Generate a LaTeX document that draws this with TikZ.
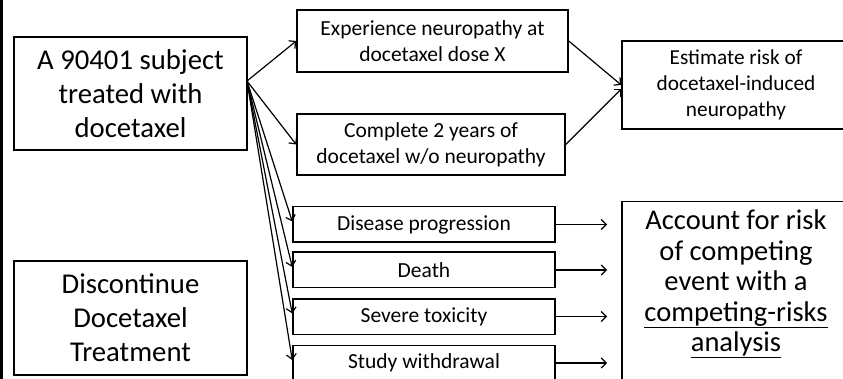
\documentclass[tikz,border=0pt]{standalone}
\usepackage{fontspec}
\setmainfont{Carlito}
\usetikzlibrary{arrows.meta}

\begin{document}
\begin{tikzpicture}[x=1pt, y=-1pt, >={Straight Barb[length=5pt,width=10pt]},
    caixa/.style={draw, line width=1.5pt, inner sep=0pt, align=center},
    evento/.style={caixa, minimum width=262pt, minimum height=35.5pt, font=\fontsize{21.5}{26}\selectfont},
    seta/.style={->, line width=1.2pt}]

    % Moldura da figura (recortada nas bordas, como no original)
    \useasboundingbox (0,0) rectangle (843,379);
    \clip (0,0) rectangle (843,379);
    \draw[line width=3pt] (1.5,0) -- (1.5,379);

    % --- CAIXAS DA ESQUERDA ---
    \node[caixa, minimum width=233pt, minimum height=113pt, font=\fontsize{28.7}{34}\selectfont] (sujeito) at (130.5,93.5) {A 90401 subject\\treated with\\docetaxel};
    \node[caixa, minimum width=233pt, minimum height=114pt, font=\fontsize{28.7}{34}\selectfont] (descont) at (130.5,318) {Discontinue\\Docetaxel\\Treatment};

    % --- DESFECHO PRINCIPAL (neuropatia) ---
    \node[caixa, minimum width=271pt, minimum height=62pt, font=\fontsize{21.5}{26}\selectfont] (neuro) at (432.5,41) {Experience neuropathy at\\docetaxel dose X};
    \node[caixa, minimum width=268pt, minimum height=61pt, font=\fontsize{21.5}{26}\selectfont] (completo) at (431,144.5) {Complete 2 years of\\docetaxel w/o neuropathy};
    \node[caixa, minimum width=228pt, minimum height=88pt, font=\fontsize{21.3}{26}\selectfont] (estimar) at (736,85) {Estimate risk of\\docetaxel-induced\\neuropathy};

    % --- EVENTOS COMPETITIVOS ---
    \node[evento] (progressao) at (424,224.5) {Disease progression};
    \node[evento] (morte) at (424,270) {Death};
    \node[evento] (toxicidade) at (424,316.5) {Severe toxicity};
    \node[evento] (retirada) at (424,363) {Study withdrawal};

    \node[caixa, minimum width=228pt, minimum height=190pt, anchor=north] (competir) at (736,201) {};
    \node[align=center, font=\fontsize{28.5}{30.5}\selectfont] (competirtxt) at (736,284) {Account for risk\\of competing\\event with a\\\underline{competing-risks}\\\underline{analysis}};

    % --- SETAS ---
    \coordinate (ramo) at (247,81);
    \coordinate (alvo) at (607,0);
    \draw[seta] (ramo) -- (neuro.west);
    \draw[seta] (ramo) -- (completo.west);
    \draw[seta] (neuro.east) -- (estimar.west);
    \draw[seta] (completo.east) -- ([yshift=-4pt]estimar.west);
    \foreach \ev in {progressao,morte,toxicidade,retirada} {
        \draw[seta] (ramo) -- ([yshift=3pt]\ev.west);
        \draw[seta] (\ev.east) -- (\ev.east -| alvo);
    }

\end{tikzpicture}
\end{document}
